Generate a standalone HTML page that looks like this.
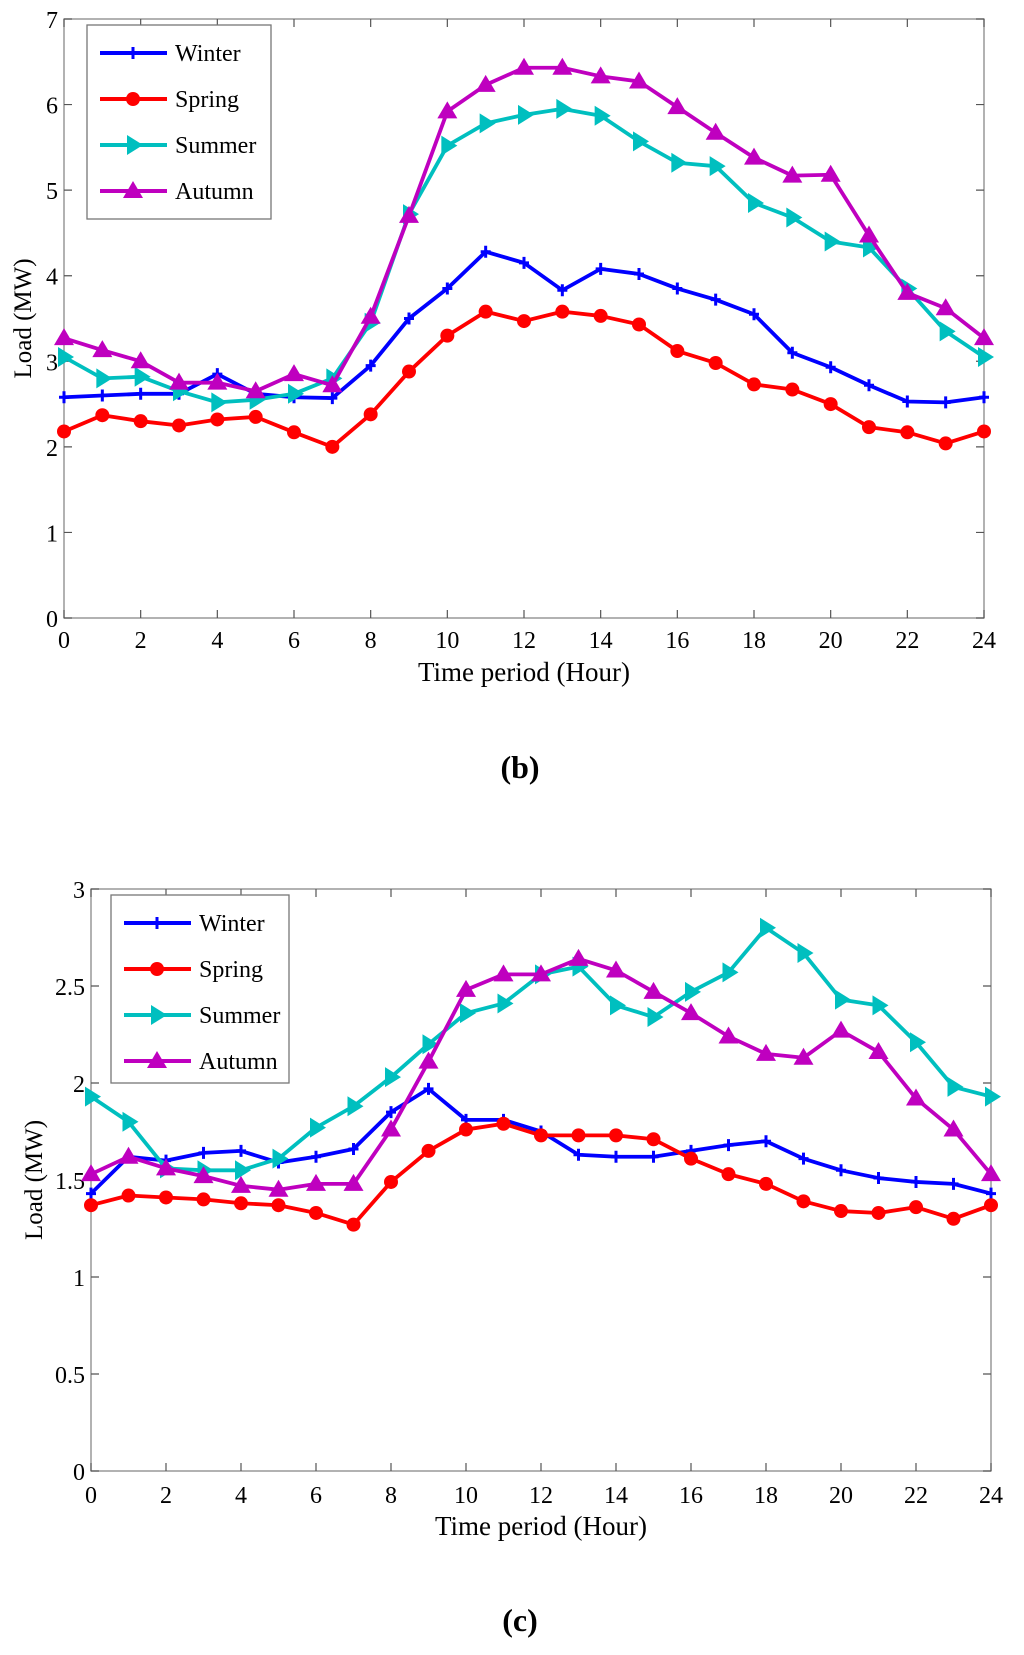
<!DOCTYPE html>
<html><head><meta charset="utf-8"><style>
html,body{margin:0;padding:0;background:#fff;}
svg{display:block;font-family:"Liberation Serif",serif;}
</style></head><body>
<svg id="root" width="1024" height="1655" viewBox="0 0 1024 1655" xmlns="http://www.w3.org/2000/svg"></svg>
<script>
const hours = [0,1,2,3,4,5,6,7,8,9,10,11,12,13,14,15,16,17,18,19,20,21,22,23,24];
const xTicks = [0,2,4,6,8,10,12,14,16,18,20,22,24];
const seasons = ["Winter","Spring","Summer","Autumn"];
const bWinter = [2.58,2.6,2.62,2.62,2.85,2.62,2.58,2.57,2.95,3.5,3.85,4.28,4.15,3.83,4.08,4.02,3.85,3.72,3.55,3.1,2.93,2.72,2.53,2.52,2.58];
const bSpring = [2.18,2.37,2.3,2.25,2.32,2.35,2.17,2.0,2.38,2.88,3.3,3.58,3.47,3.58,3.53,3.43,3.12,2.98,2.73,2.67,2.5,2.23,2.17,2.04,2.18];
const bSummer = [3.05,2.8,2.82,2.65,2.52,2.55,2.62,2.8,3.45,4.72,5.52,5.78,5.88,5.95,5.87,5.57,5.32,5.28,4.85,4.68,4.4,4.33,3.85,3.35,3.05];
const bAutumn = [3.27,3.13,3.0,2.75,2.75,2.65,2.85,2.72,3.52,4.7,5.92,6.23,6.43,6.43,6.33,6.27,5.97,5.67,5.38,5.17,5.18,4.47,3.8,3.62,3.27];
const bYTicks = [0,1,2,3,4,5,6,7];
const cWinter = [1.43,1.62,1.6,1.64,1.65,1.59,1.62,1.66,1.85,1.97,1.81,1.81,1.75,1.63,1.62,1.62,1.65,1.68,1.70,1.61,1.55,1.51,1.49,1.48,1.43];
const cSpring = [1.37,1.42,1.41,1.40,1.38,1.37,1.33,1.27,1.49,1.65,1.76,1.79,1.73,1.73,1.73,1.71,1.61,1.53,1.48,1.39,1.34,1.33,1.36,1.30,1.37];
const cSummer = [1.93,1.8,1.56,1.55,1.55,1.61,1.77,1.88,2.03,2.20,2.36,2.41,2.56,2.6,2.4,2.34,2.47,2.57,2.80,2.67,2.43,2.40,2.21,1.98,1.93];
const cAutumn = [1.53,1.62,1.56,1.52,1.47,1.45,1.48,1.48,1.76,2.11,2.48,2.56,2.56,2.64,2.58,2.47,2.36,2.24,2.15,2.13,2.27,2.16,1.92,1.76,1.53];
const cYTicks = [0,0.5,1,1.5,2,2.5,3];

const NS = "http://www.w3.org/2000/svg";
const root = document.getElementById("root");
const colors = ["#0000ff","#ff0000","#00bfbf","#bf00bf"];
function mk(tag, attrs, parent){const e=document.createElementNS(NS,tag);for(const k in attrs)e.setAttribute(k,attrs[k]);parent.appendChild(e);return e;}

function marker(g, kind, x, y, col){
  let m;
  if(kind===0){m=mk("path",{d:`M${x-5} ${y}H${x+5}M${x} ${y-6}V${y+6}`,stroke:col,"stroke-width":3,fill:"none"},g);}
  else if(kind===1){m=mk("circle",{cx:x,cy:y,r:7,fill:col},g);}
  else if(kind===2){m=mk("polygon",{points:`${x-6},${y-10} ${x+10},${y} ${x-6},${y+10}`,fill:col},g);}
  else {m=mk("polygon",{points:`${x},${y-10} ${x+10},${y+7} ${x-10},${y+7}`,fill:col},g);}
  
  
}

function chart(cfg){
  const {L,R,T,B,ymax,yTicks,series,legend,ylabX,tickY,titleY,capX,capY,cap,name}=cfg;
  const g=mk("g",{},root);
  
  
  const sx=h=>L+(R-L)*h/24, sy=v=>B-(B-T)*v/ymax;
  const frame=mk("rect",{x:L,y:T,width:R-L,height:B-T,fill:"none",stroke:"#888","stroke-width":1.3},g);
  
  
  xTicks.forEach(h=>{
    const x=sx(h);
    mk("path",{d:`M${x} ${B}V${B-8}M${x} ${T}V${T+8}`,stroke:"#555","stroke-width":1.2},g);
    const t=mk("text",{x:x,y:tickY,"text-anchor":"middle","font-size":24},g);t.textContent=h;
    
    
  });
  yTicks.forEach(v=>{
    const y=sy(v);
    mk("path",{d:`M${L} ${y}H${L+8}M${R} ${y}H${R-8}`,stroke:"#555","stroke-width":1.2},g);
    const t=mk("text",{x:L-6,y:y+9,"text-anchor":"end","font-size":24},g);t.textContent=v;
    
    
  });
  const xt=mk("text",{x:(L+R)/2,y:titleY,"text-anchor":"middle","font-size":27},g);xt.textContent="Time period (Hour)";
  
  
  const yt=mk("text",{x:0,y:0,"text-anchor":"middle","font-size":25,transform:`translate(${ylabX},${(T+B)/2}) rotate(-90)`},g);yt.textContent="Load (MW)";
  
  
  series.forEach((s,i)=>{
    const sg=mk("g",{},g);
    
    
    const pts=hours.map((h,j)=>sx(h)+","+sy(s[j])).join(" ");
    mk("polyline",{points:pts,fill:"none",stroke:colors[i],"stroke-width":3.8,"stroke-linejoin":"round"},sg);
    hours.forEach((h,j)=>marker(sg,i,sx(h),sy(s[j]),colors[i]));
  });
  const lg=mk("g",{},g);
  
  
  mk("rect",{x:legend.x,y:legend.y,width:legend.w,height:legend.h,fill:"#fff",stroke:"#777","stroke-width":1.3},lg);
  seasons.forEach((n,i)=>{
    const ey=legend.y+28+i*46;
    const eg=mk("g",{},lg);
    
    
    mk("line",{x1:legend.x+13,x2:legend.x+80,y1:ey,y2:ey,stroke:colors[i],"stroke-width":4},eg);
    marker(eg,i,legend.x+46,ey,colors[i]);
    const t=mk("text",{x:legend.x+88,y:ey+8,"font-size":24},eg);t.textContent=n;
  });
  const c=mk("text",{x:capX,y:capY,"text-anchor":"middle","font-size":32,"font-weight":"bold"},root);c.textContent=cap;
  
  
}

chart({name:"chart-b",L:64,R:984,T:19,B:618,ymax:7,yTicks:bYTicks,series:[bWinter,bSpring,bSummer,bAutumn],
  legend:{x:87,y:25,w:184,h:194},ylabX:31,tickY:648,titleY:681,capX:520,capY:778,cap:"(b)"});
chart({name:"chart-c",L:91,R:991,T:889,B:1471,ymax:3,yTicks:cYTicks,series:[cWinter,cSpring,cSummer,cAutumn],
  legend:{x:111,y:895,w:178,h:188},ylabX:42,tickY:1503,titleY:1535,capX:520,capY:1631,cap:"(c)"});
</script>
</body></html>
